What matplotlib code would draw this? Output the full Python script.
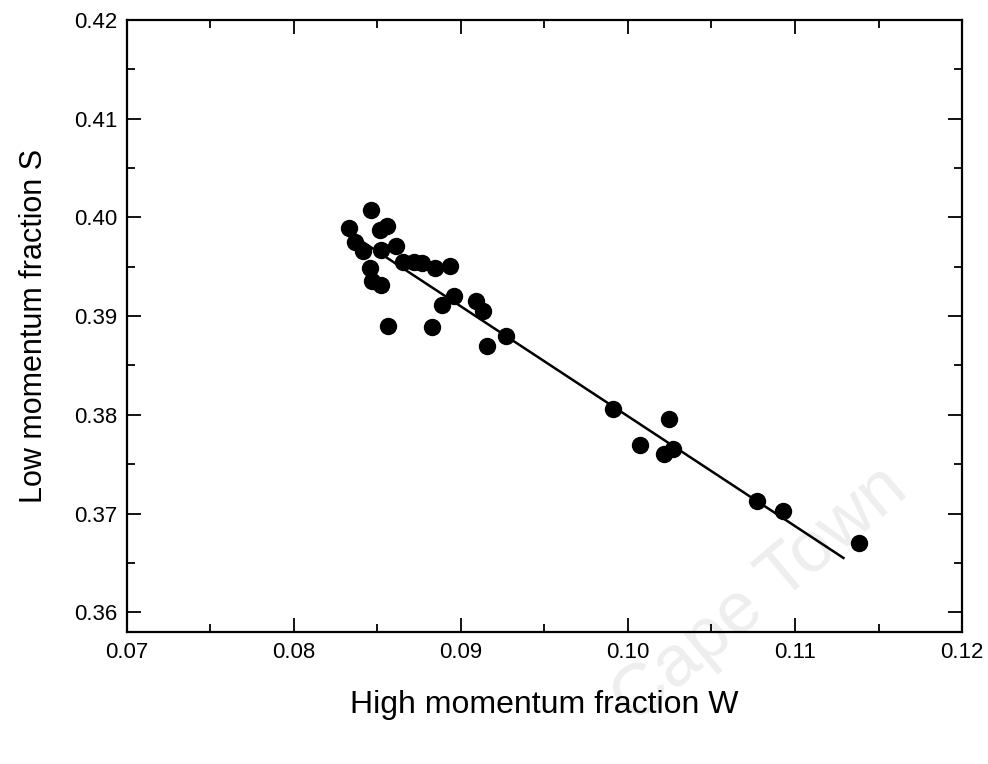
import matplotlib
matplotlib.use("Agg")
import matplotlib.pyplot as plt
from matplotlib.ticker import MultipleLocator, FormatStrFormatter

# measured points: high momentum fraction W vs low momentum fraction S
w_vals = [0.08329, 0.08461, 0.08515, 0.08555, 0.08365, 0.08411, 0.08521, 0.08611,
          0.08455, 0.08465, 0.08521, 0.08651, 0.08720, 0.08768, 0.08844, 0.08934,
          0.08565, 0.08824, 0.08958, 0.08888, 0.09090, 0.09134, 0.09268, 0.09154,
          0.09912, 0.10247, 0.10072, 0.10217, 0.10271, 0.10774, 0.10930, 0.11383]
s_vals = [0.39895, 0.40078, 0.39875, 0.39909, 0.39749, 0.39658, 0.39665, 0.39706,
          0.39489, 0.39360, 0.39320, 0.39546, 0.39553, 0.39536, 0.39489, 0.39510,
          0.38904, 0.38886, 0.39208, 0.39114, 0.39150, 0.39049, 0.38795, 0.38700,
          0.38058, 0.37962, 0.37692, 0.37607, 0.37652, 0.37127, 0.37025, 0.36704]

# straight line fit drawn in the figure
fit_w = [0.0836, 0.1129]
fit_s = [0.3981, 0.3655]

plt.rcParams['font.family'] = ['Liberation Sans', 'DejaVu Sans']

fig = plt.figure(figsize=(9.88, 7.64), dpi=100)
ax = fig.add_axes([0.1285, 0.1728, 0.8452, 0.801])

# faint watermark, kept behind the data
ax.text(0.77, 0.22, 'Cape Town', transform=fig.transFigure, fontsize=52,
        color='#eeeeee', rotation=40, ha='center', va='center', zorder=0,
        clip_on=False)

ax.plot(fit_w, fit_s, color='black', lw=1.8, zorder=2)
ax.plot(w_vals, s_vals, 'o', color='black', ms=11.5, zorder=3)

ax.set_xlim(0.07, 0.12)
ax.set_ylim(0.358, 0.42)
ax.xaxis.set_major_locator(MultipleLocator(0.01))
ax.xaxis.set_minor_locator(MultipleLocator(0.005))
ax.yaxis.set_major_locator(MultipleLocator(0.01))
ax.yaxis.set_minor_locator(MultipleLocator(0.005))
ax.xaxis.set_major_formatter(FormatStrFormatter('%.2f'))
ax.yaxis.set_major_formatter(FormatStrFormatter('%.2f'))

ax.tick_params(which='both', direction='in', top=True, right=True, width=1.3,
               labelsize=16)
ax.tick_params(which='major', length=10, pad=7)
ax.tick_params(which='minor', length=6)
for sp in ax.spines.values():
    sp.set_linewidth(1.6)

ax.set_xlabel('High momentum fraction W', fontsize=23, labelpad=20)
ax.set_ylabel('Low momentum fraction S', fontsize=22, labelpad=18)

fig.savefig('out.png', dpi=100)
